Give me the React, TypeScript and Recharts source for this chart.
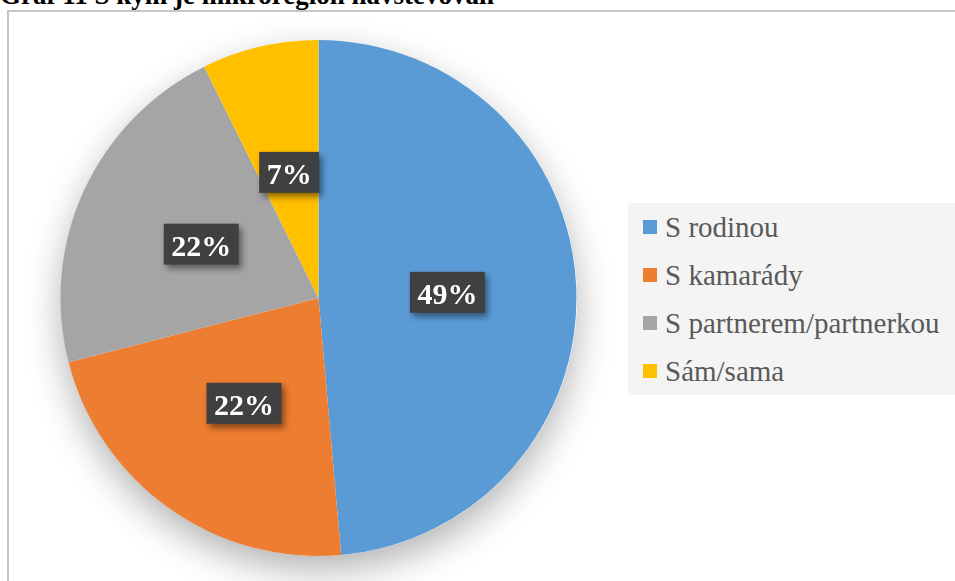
import React from "react";
import { PieChart, Pie, Cell, Legend } from "recharts";

const categories = ["S rodinou", "S kamarády", "S partnerem/partnerkou", "Sám/sama"];
const values = [48.6, 22.4, 21.7, 7.3];
const labels = ["49%", "22%", "22%", "7%"];
const colors = ["#5B9BD5", "#ED7D31", "#A5A5A5", "#FFC000"];
const title = "Graf 11 S kým je mikroregion navštěvován";

const data = categories.map((name, i) => ({ name, value: values[i], label: labels[i] }));

const CX = 318.5;
const CY = 298;
const R = 258;
const RAD = Math.PI / 180;

const renderLabel = (props: any) => {
  const { cx, cy, midAngle, outerRadius, index } = props;
  const r = outerRadius * 0.5;
  const x = cx + r * Math.cos(-midAngle * RAD);
  const y = cy + r * Math.sin(-midAngle * RAD);
  const text = data[index].label;
  const w = text.length === 3 ? 75 : 60;
  const h = 41;
  return (
    <g style={{ filter: "drop-shadow(3px 4px 3px rgba(0,0,0,0.45))" }}>
      <rect x={x - w / 2} y={y - h / 2} width={w} height={h} fill="#404040" />
      <text
        x={x}
        y={y + 1}
        textAnchor="middle"
        dominantBaseline="central"
        fill="#ffffff"
        fontFamily="'Liberation Serif', serif"
        fontWeight="bold"
        fontSize={30}
      >
        {text}
      </text>
    </g>
  );
};

const renderLegend = () => (
  <div
    style={{
      background: "#f4f4f4",
      width: 327,
      height: 192,
      boxSizing: "border-box",
      paddingTop: 0,
      fontFamily: "'Liberation Serif', serif",
    }}
  >
    {data.map((d, i) => (
      <div key={d.name} style={{ display: "flex", alignItems: "center", height: 48, paddingLeft: 15 }}>
        <div style={{ width: 14, height: 14, background: colors[i], marginRight: 8 }} />
        <span style={{ fontSize: 29, color: "#595959", lineHeight: "29px" }}>{d.name}</span>
      </div>
    ))}
  </div>
);

export default function App() {
  return (
    <div style={{ position: "absolute", left: 0, top: 0, width: 955, height: 581, overflow: "hidden", background: "#fff" }}>
      <div
        style={{
          position: "absolute",
          left: 7,
          top: 10,
          width: 1000,
          height: 700,
          border: "2px solid #c6c6c6",
          boxSizing: "border-box",
          background: "#fff",
        }}
      />
      <div
        style={{
          position: "absolute",
          left: 0,
          top: -18,
          fontFamily: "'Liberation Serif', serif",
          fontWeight: "bold",
          fontSize: 27,
          lineHeight: "27px",
          whiteSpace: "nowrap",
          color: "#000",
        }}
      >
        {title}
      </div>
      <div
        style={{
          position: "absolute",
          left: CX - R,
          top: CY - R,
          width: 2 * R,
          height: 2 * R,
          borderRadius: "50%",
          boxShadow: "0 14px 36px rgba(0,0,0,0.3)",
        }}
      />
      <div style={{ position: "absolute", left: 0, top: 0 }}>
        <PieChart width={955} height={581} margin={{ top: 0, right: 0, bottom: 0, left: 0 }}>
          <Pie
            data={data}
            dataKey="value"
            nameKey="name"
            cx={CX}
            cy={CY}
            outerRadius={R}
            innerRadius={0}
            startAngle={90}
            endAngle={-270}
            stroke="none"
            isAnimationActive={false}
            label={renderLabel}
            labelLine={false}
          >
            {data.map((d, i) => (
              <Cell key={d.name} fill={colors[i]} />
            ))}
          </Pie>
          <Legend
            layout="vertical"
            verticalAlign="top"
            align="right"
            wrapperStyle={{ position: "absolute", left: 628, top: 203, width: 327 }}
            content={renderLegend}
          />
        </PieChart>
      </div>
    </div>
  );
}
